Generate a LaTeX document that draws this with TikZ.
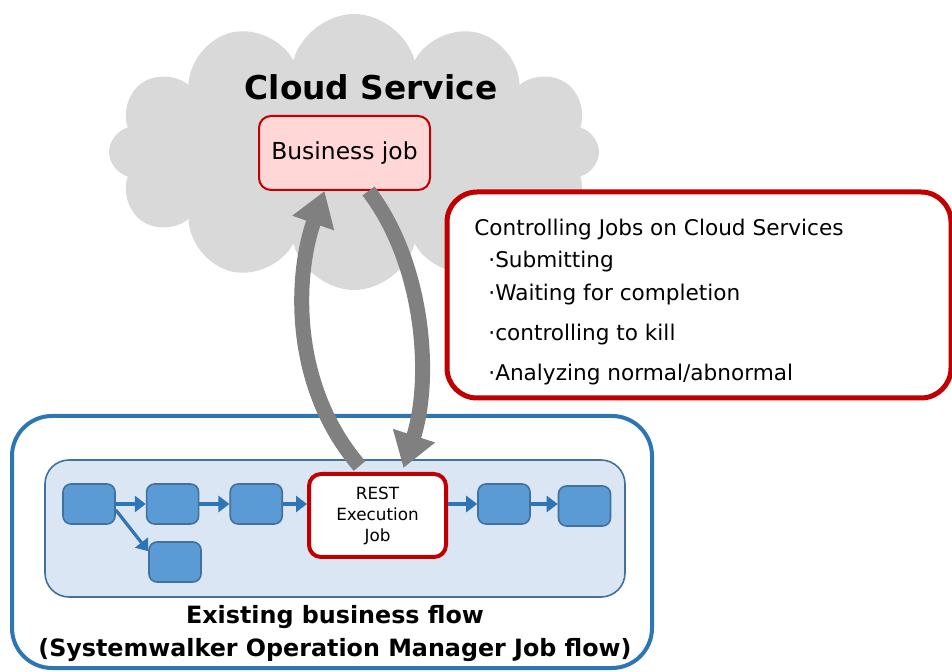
\documentclass[tikz,border=0pt]{standalone}
\usepackage{fontspec}
\setmainfont{DejaVu Sans}
\usepackage{tikz}
\usetikzlibrary{arrows.meta,positioning,shapes.symbols}
\definecolor{cwred}{HTML}{C00000}
\definecolor{cwpink}{HTML}{FFD7D7}
\definecolor{cwcloud}{HTML}{D9D9D9}
\definecolor{cwgray}{HTML}{808080}
\definecolor{cwblue}{HTML}{2E75B6}
\definecolor{cwjob}{HTML}{5B9BD5}
\definecolor{cwjobline}{HTML}{41719C}
\definecolor{cwpale}{HTML}{DAE6F4}

\begin{document}
\begin{tikzpicture}[
    x=0.5pt,y=-0.5pt,
    job/.style={draw=cwjobline,fill=cwjob,line width=0.8pt,rounded corners=4pt,minimum width=26pt,minimum height=20pt,inner sep=0pt},
    flow/.style={-{Triangle[width=8pt,length=5.5pt]},line width=1.6pt,cwblue},
    call/.style={-{Triangle[width=21pt,length=17pt]},line width=7.5pt,cwgray},
    item/.style={anchor=base west,font=\fontsize{10.8}{13}\selectfont,inner sep=0pt}
  ]
  \useasboundingbox (0,0) rectangle (952,672);
  \node[cloud,cloud puffs=12,fill=cwcloud,minimum width=245pt,minimum height=138pt] (cloud) at (354,152) {};
  \node[font=\bfseries\fontsize{16.4}{20}\selectfont] (cloudlbl) at (371,87) {Cloud Service};
  \node[draw=cwred,fill=cwpink,line width=1pt,rounded corners=6pt,minimum width=85.5pt,minimum height=37pt,
    font=\fontsize{11.7}{14}\selectfont] (biz) at (344.5,153) {Business job};

  \node[draw=cwred,fill=white,line width=2.5pt,rounded corners=15pt,minimum width=252pt,minimum height=103pt] (ctrl) at (699,295) {};
  \node[item] (ctrlhead) at (474,236) {Controlling Jobs on Cloud Services};
  \foreach \y/\t [count=\i] in {268/Submitting,301/Waiting for completion,341/controlling to kill,381/{Analyzing normal/abnormal}}
    \node[item] (item\i) at (488,\y) {·\t};

  \node[draw=cwblue,line width=2pt,rounded corners=20pt,minimum width=320pt,minimum height=126pt] (outer) at (332,542) {};
  \node[draw=cwjobline,fill=cwpale,line width=0.8pt,rounded corners=12pt,minimum width=290pt,minimum height=68.5pt] (inner) at (335,528.5) {};
  \node[font=\bfseries\fontsize{11.9}{16.5}\selectfont,align=center] (flowlbl) at (335,634)
    {Existing business flow\\(Systemwalker Operation Manager Job flow)};

  \node[job] (j1) at (89,504) {};
  \node[job,right=15pt of j1] (j2) {};
  \node[job,right=15pt of j2] (j3) {};
  \node[job] (j4) at (175,562) {};
  \node[draw=cwred,fill=white,line width=2pt,rounded corners=6pt,minimum width=68.5pt,minimum height=41.5pt,
    align=center,font=\fontsize{8.4}{10.5}\selectfont] (rest) at (377.5,515.5) {REST\\Execution\\Job};
  \node[job] (j5) at (504,504) {};
  \node[job] (j6) at (584.5,506) {};

  \draw[flow] (j1) -- (j2);
  \draw[flow] (j2) -- (j3);
  \draw[flow] (j3.east) -- (j3.east -| rest.west);
  \draw[flow] (rest.east |- j5) -- (j5.west);
  \draw[flow] (j5.east) -- (j5.east -| j6.west);
  \draw[flow] ([yshift=-3pt]j1.east) -- ([yshift=-5pt]j4.north west);

  \draw[call] ([xshift=-9pt,yshift=3pt]rest.north) .. controls (290,385) and (295,275) .. ([xshift=-10pt]biz.south);
  \draw[call] ([xshift=12pt]biz.south) .. controls (425,265) and (432,380) .. ([xshift=13pt,yshift=2pt]rest.north);
\end{tikzpicture}
\end{document}
